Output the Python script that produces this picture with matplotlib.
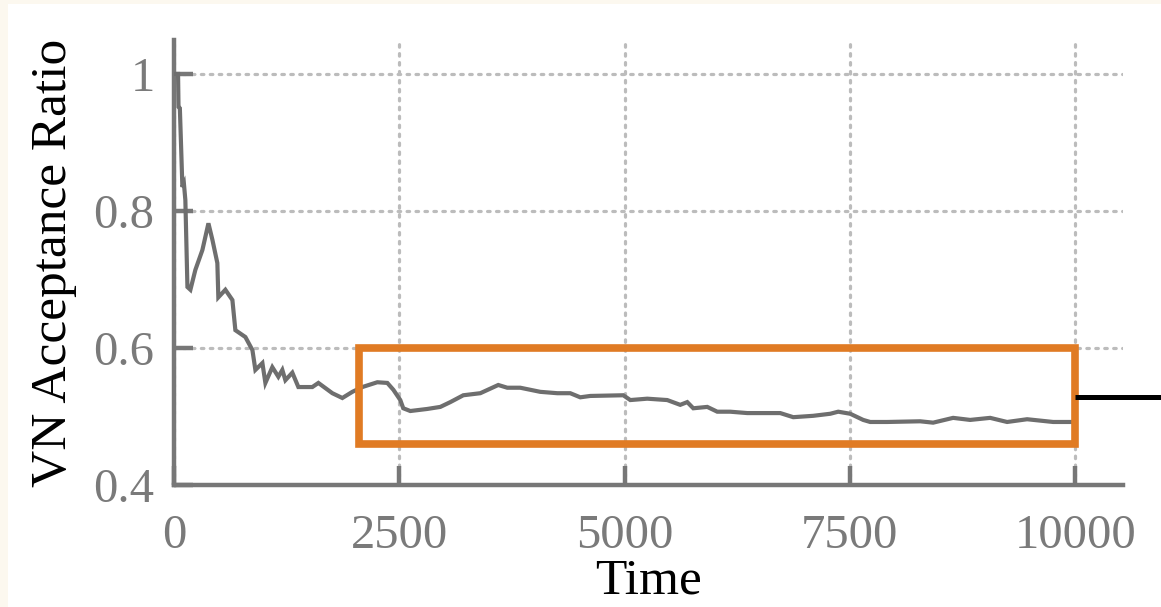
import matplotlib
matplotlib.use("Agg")
import matplotlib.pyplot as plt
from matplotlib.patches import Rectangle

# Data
time = [20, 45, 50, 65, 80, 93, 110, 126, 149, 182, 237, 315, 382, 426, 481, 492,
        570, 648, 681, 792, 870, 903, 981, 1014, 1091, 1158, 1202, 1236, 1313,
        1380, 1535, 1602, 1757, 1868, 1979, 2090, 2256, 2367, 2434, 2511, 2544,
        2622, 2810, 2955, 3066, 3210, 3399, 3598, 3698, 3842, 4064, 4253, 4397,
        4508, 4619, 4985, 5063, 5251, 5473, 5617, 5695, 5762, 5917, 6028, 6172,
        6361, 6727, 6871, 7093, 7282, 7370, 7503, 7647, 7725, 7913, 8279, 8423,
        8645, 8834, 9056, 9244, 9466, 9755, 9944]
ratio = [1.0, 1.0, 0.952, 0.95, 0.889, 0.835, 0.84, 0.816, 0.689, 0.685, 0.714,
         0.743, 0.782, 0.758, 0.724, 0.674, 0.685, 0.670, 0.626, 0.616, 0.597,
         0.568, 0.578, 0.549, 0.572, 0.558, 0.568, 0.553, 0.564, 0.543, 0.543,
         0.549, 0.534, 0.527, 0.536, 0.543, 0.550, 0.549, 0.539, 0.524, 0.512,
         0.508, 0.511, 0.514, 0.521, 0.531, 0.534, 0.546, 0.542, 0.542, 0.536,
         0.534, 0.534, 0.528, 0.530, 0.531, 0.524, 0.526, 0.524, 0.517, 0.521,
         0.512, 0.514, 0.507, 0.507, 0.505, 0.505, 0.499, 0.501, 0.504, 0.507,
         0.504, 0.495, 0.492, 0.492, 0.493, 0.491, 0.498, 0.495, 0.498, 0.492,
         0.496, 0.492, 0.492]
xticks = [0, 2500, 5000, 7500, 10000]
yticks = [0.4, 0.6, 0.8, 1.0]
ytick_labels = ["0.4", "0.6", "0.8", "1"]

plt.rcParams['font.family'] = ['Liberation Serif', 'DejaVu Serif']

fig = plt.figure(figsize=(11.61, 6.07), dpi=100, facecolor='#fcf8ef')
fig.patches.append(Rectangle((8 / 1161, 0), 1, 603 / 607, transform=fig.transFigure,
                             facecolor='white', edgecolor='none', zorder=-10))

ax = fig.add_axes([174 / 1161, (607 - 485) / 607, (1123 - 174) / 1161, (485 - 40) / 607])
ax.set_facecolor('none')

gray = '#777777'
ax.plot(time, ratio, color='#6e6e6e', lw=3.0, zorder=3, solid_joinstyle='miter')

ax.set_xlim(0, 10530)
ax.set_ylim(0.4, 1.0496)
ax.set_xticks(xticks)
ax.set_xticklabels([str(t) for t in xticks])
ax.set_yticks(yticks)
ax.set_yticklabels(ytick_labels)

for s in ['top', 'right']:
    ax.spines[s].set_visible(False)
for s in ['left', 'bottom']:
    ax.spines[s].set_color(gray)
    ax.spines[s].set_linewidth(3.2)

ax.tick_params(direction='in', length=14, width=3.2, color=gray,
               labelsize=35, labelcolor='#7a7a7a')
ax.tick_params(axis='x', pad=21)
ax.tick_params(axis='y', pad=14)

ax.grid(True, linestyle=(0, (0.8, 2.0)), color='#bcbcbc', lw=2.3, zorder=0,
        dash_capstyle='round')

ax.set_xlabel('Time', fontsize=37, color='black', labelpad=0)
ax.set_ylabel('VN Acceptance Ratio', fontsize=37, color='black', labelpad=12)

# Highlight box and pointer line
ax.add_patch(Rectangle((2050, 0.46), 10000 - 2050, 0.6 - 0.46, fill=False,
                       edgecolor='#e07b24', lw=5.5, zorder=4, clip_on=False))
ax.plot([10000, 11000], [0.528, 0.528], color='black', lw=3.6, clip_on=False,
        solid_capstyle='butt', zorder=5)

fig.savefig('out.png', dpi=100, facecolor=fig.get_facecolor())
